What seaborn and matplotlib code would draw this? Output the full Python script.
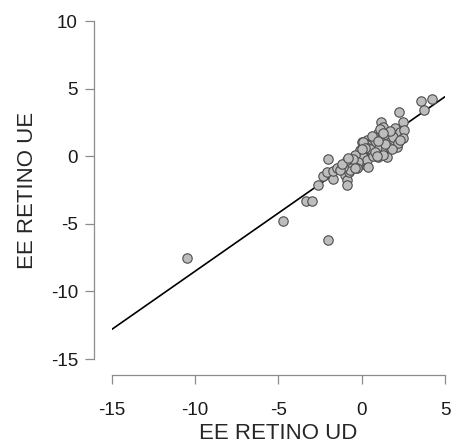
import numpy as np
import pandas as pd
import matplotlib
matplotlib.use("Agg")
import matplotlib.pyplot as plt
import seaborn as sns

# values
ee_retino_ud = [
    -10.5, -4.75, -2.0, -3.37, -3.0, -2.65, -2.0, -2.3, -2.07, -1.74,
    -1.71, -1.5, -1.0, -0.9, -0.87, -0.77, -0.6, -0.51, -0.3, -0.1,
    0.0, 0.2, 0.3, 4.24, 3.56, 3.76, 2.24, 2.5, 1.16, 1.26,
    2.0, 2.3, 2.56, 2.5, 0.99, 0.9, 1.2, 1.5, 1.7, 1.9,
    1.55, 1.5, 1.2, 0.9, 0.6, 0.3, -0.1, 0.1, -0.4, -0.6,
    -0.2, -0.7, 0.3, 0.6, 1.0, 1.3, 0.4, 0.1, -0.2, 0.4,
    -0.7, -1.1, -1.3, 2.1, 2.2, 1.8, 0.5, 0.7, -0.9, -0.5,
    1.1, 0.8, 0.2, -0.3, 1.4, -1.2, -0.8, 0.0, 0.6, 1.0,
    1.7, 2.3, -0.4, 0.9, 1.3,
]
ee_retino_ue = [
    -7.5, -4.8, -6.2, -3.28, -3.28, -2.1, -0.2, -1.46, -1.16, -1.65,
    -1.11, -0.87, -1.36, -1.78, -2.15, -1.16, -0.67, -0.17, 0.07, -0.67,
    1.06, 0.32, 1.19, 4.2, 4.07, 3.4, 3.26, 2.5, 2.54, 2.17,
    2.05, 1.8, 1.93, 1.31, 1.68, 1.31, 1.43, 1.56, 1.06, 1.43,
    0.69, -0.05, 0.32, 0.69, 1.06, 0.81, 0.44, -0.05, 0.07, -0.54,
    -0.67, -1.04, -0.3, 0.2, -0.05, 0.07, -0.79, 1.06, -0.42, 0.57,
    -0.42, -0.79, -1.04, 0.69, 1.0, 0.5, 0.5, 0.0, -0.3, -0.2,
    2.0, 0.3, 0.6, -0.9, 0.9, -0.6, -0.1, 0.5, 1.5, 1.1,
    1.9, 1.2, -0.9, 0.0, 1.7,
]

# fitted line as drawn in the reference
line_x = [-15, 5]
line_y = [-12.8, 4.4]

x_ticks = [-15, -10, -5, 0, 5]
y_ticks = [-15, -10, -5, 0, 5, 10]

df = pd.DataFrame({"EE RETINO UD": ee_retino_ud, "EE RETINO UE": ee_retino_ue})

sns.set_style("white")
plt.rcParams["font.family"] = ["Liberation Sans", "DejaVu Sans"]

fig = plt.figure(figsize=(4.52, 4.45), dpi=100)
ax = fig.add_axes([112 / 452, 86 / 445, 333 / 452, 338 / 445])

sns.lineplot(x=line_x, y=line_y, color="black", linewidth=1.2, ax=ax)
sns.scatterplot(
    data=df, x="EE RETINO UD", y="EE RETINO UE",
    color="#BDBDBD", edgecolor="#4D4D4D", linewidth=0.8, s=46,
    ax=ax, zorder=3, clip_on=False,
)

ax.set_xlim(-15, 5)
ax.set_ylim(-15, 10)
ax.set_xticks(x_ticks)
ax.set_yticks(y_ticks)
ax.set_xticklabels([str(t) for t in x_ticks])
ax.set_yticklabels([str(t) for t in y_ticks])

sns.despine(ax=ax, offset={"left": 13, "bottom": 11.5})
for side in ["left", "bottom"]:
    ax.spines[side].set_color("#8C8C8C")
    ax.spines[side].set_linewidth(0.9)
ax.tick_params(axis="both", which="major", length=6.5, width=0.9, color="#8C8C8C",
               labelsize=13.5, labelcolor="#1A1A1A", bottom=True, left=True)
ax.tick_params(axis="x", pad=13)
ax.tick_params(axis="y", pad=5)

ax.set_xlabel("EE RETINO UD", fontsize=16, labelpad=3)
ax.set_ylabel("EE RETINO UE", fontsize=16, labelpad=9)

fig.savefig("out.png", dpi=100)
